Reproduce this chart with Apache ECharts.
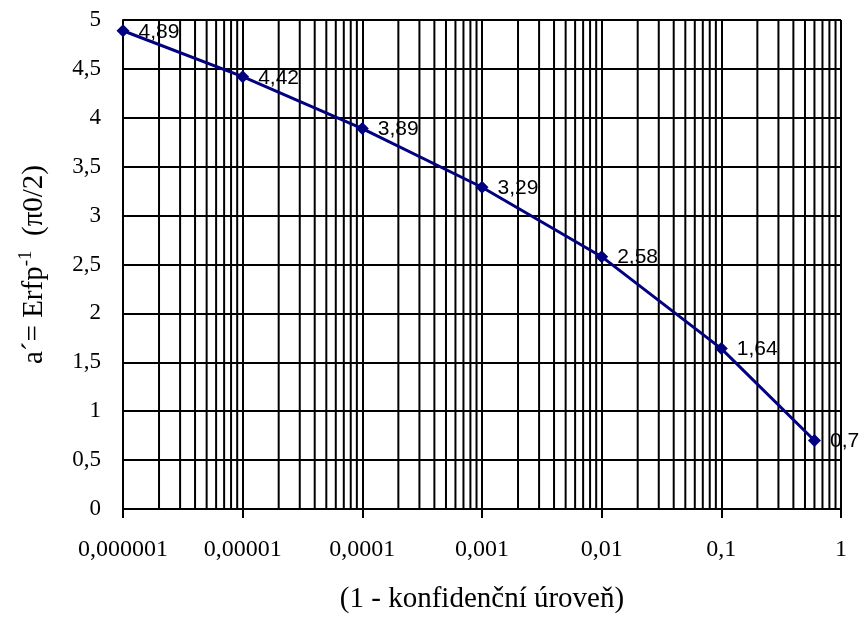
<!DOCTYPE html>
<html>
<head>
<meta charset="utf-8">
<script src="https://cdn.jsdelivr.net/npm/echarts@6/dist/echarts.min.js"></script>
<style>html,body{margin:0;padding:0;background:#fff}#c{width:861px;height:619px}</style>
</head>
<body>
<div id="c"></div>
<script>
// Data
const xValues = [0.000001, 0.00001, 0.0001, 0.001, 0.01, 0.1, 0.6];
const yValues = [4.89, 4.42, 3.89, 3.29, 2.58, 1.64, 0.7];
const xTickLabels = ["0,000001", "0,00001", "0,0001", "0,001", "0,01", "0,1", "1"];
const xTickValues = [0.000001, 0.00001, 0.0001, 0.001, 0.01, 0.1, 1];
const yTickValues = [0, 0.5, 1, 1.5, 2, 2.5, 3, 3.5, 4, 4.5, 5];
const xTitle = "(1 - konfidenční úroveň)";
const minorMultipliers = [2, 3, 4, 5, 6, 7, 8, 9];

// minor vertical grid lines (2..9 in each decade), spanning the y range
const yMin = yTickValues[0], yMax = yTickValues[yTickValues.length - 1];
const minorX = [];
for (let d = 0; d < xTickValues.length - 1; d++) {
  for (const m of minorMultipliers) minorX.push([xTickValues[d] * m, yMin, yMax]);
}

const chart = echarts.init(document.getElementById('c'), null, {renderer: 'canvas'});
const serif = '"Liberation Serif", "Times New Roman", serif';
const sans = '"Liberation Sans", Arial, sans-serif';

chart.setOption({
  animation: false,
  backgroundColor: '#fff',
  grid: {left: 123, right: 20, top: 20, bottom: 107},
  xAxis: {
    type: 'log',
    logBase: 10,
    min: xTickValues[0],
    max: xTickValues[xTickValues.length - 1],
    splitNumber: 6,
    axisLine: {lineStyle: {color: '#000', width: 2}},
    axisTick: {show: true, length: 9, lineStyle: {color: '#000', width: 2}},
    axisLabel: {
      margin: 29,
      fontFamily: serif, fontSize: 24, color: '#000',
      formatter: function (v) {
        const i = Math.round(Math.log10(v)) + 6;
        return xTickLabels[i] !== undefined ? xTickLabels[i] : '';
      }
    },
    splitLine: {show: true, lineStyle: {color: '#000', width: 2}},
    name: xTitle,
    nameLocation: 'middle',
    nameGap: 76,
    nameTextStyle: {fontFamily: serif, fontSize: 29, color: '#000'}
  },
  yAxis: {
    type: 'value',
    min: yMin,
    max: yMax,
    interval: 0.5,
    axisLine: {show: true, lineStyle: {color: '#000', width: 2}},
    axisTick: {show: false},
    axisLabel: {
      margin: 22,
      fontFamily: serif, fontSize: 23, color: '#000',
      formatter: function (v) { return String(v).replace('.', ','); }
    },
    splitLine: {show: true, lineStyle: {color: '#000', width: 2}},
    name: '{m|a´= Erfp}{s|-1}{m|  (π0/2)}',
    nameLocation: 'middle',
    nameGap: 71,
    nameRotate: 90,
    nameTextStyle: {
      fontFamily: serif, fontSize: 29, color: '#000',
      rich: {
        m: {fontFamily: serif, fontSize: 29, color: '#000'},
        s: {fontFamily: serif, fontSize: 19, color: '#000', verticalAlign: 'bottom', padding: [0, 0, 16, 0]}
      }
    }
  },
  series: [{
    type: 'custom',
    silent: true,
    z: 1,
    data: minorX,
    encode: {x: 0, y: [1, 2]},
    renderItem: function (params, api) {
      const p0 = api.coord([api.value(0), api.value(1)]);
      const p1 = api.coord([api.value(0), api.value(2)]);
      return {
        type: 'line',
        shape: {x1: p0[0], y1: p0[1], x2: p1[0], y2: p1[1]},
        style: {stroke: '#000', lineWidth: 2}
      };
    }
  }, {
    type: 'line',
    data: xValues.map((x, i) => [x, yValues[i]]),
    lineStyle: {color: '#000080', width: 3},
    itemStyle: {color: '#000080'},
    symbol: 'diamond',
    symbolSize: 13,
    z: 5,
    label: {
      show: true,
      position: 'right',
      distance: 9,
      offset: [0, 1],
      fontFamily: sans, fontSize: 21, color: '#000',
      formatter: p => String(p.value[1]).replace('.', ',')
    }
  }]
});
</script>
</body>
</html>
